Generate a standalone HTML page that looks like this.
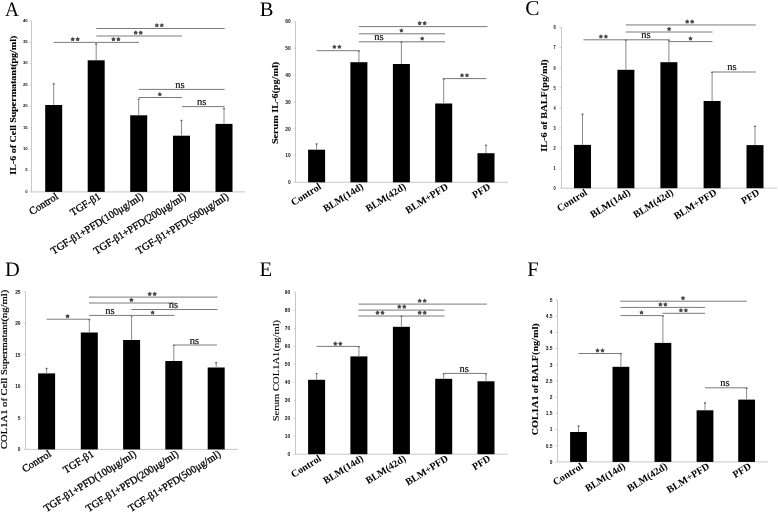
<!DOCTYPE html>
<html><head><meta charset="utf-8"><style>
html,body{margin:0;padding:0;background:#fff;overflow:hidden;width:778px;height:513px;}
svg{display:block;will-change:transform;}
.let,.ns{text-rendering:geometricPrecision;}
.let{font-family:"Liberation Serif",serif;font-size:20.5px;fill:#000;}
.tick{font-family:"Liberation Sans",sans-serif;font-weight:bold;font-size:4.9px;fill:#111;text-anchor:end;}
.ns{font-family:"Liberation Serif",serif;font-size:10.5px;fill:#111;stroke:#111;stroke-width:0.2px;text-anchor:middle;}
.title{font-family:"Liberation Serif",serif;font-size:8.8px;fill:#000;stroke:#000;stroke-width:0.12px;text-anchor:middle;}
.xr{font-family:"Liberation Serif",serif;font-size:10.5px;fill:#000;stroke:#000;stroke-width:0.3px;text-anchor:end;}
.xl{font-family:"Liberation Serif",serif;font-weight:bold;font-size:10.1px;fill:#000;text-anchor:end;}
</style></head><body>
<svg width="778" height="513" viewBox="0 0 778 513">
<rect width="778" height="513" fill="#fff"/>
<text transform="translate(4.9,16.0) scale(0.95,1)" class="let" style="font-size:20.4px">A</text>
<line x1="31.5" y1="20.9" x2="31.5" y2="191.9" stroke="#c8c8c8" stroke-width="1"/>
<line x1="31.5" y1="191.9" x2="245" y2="191.9" stroke="#c8c8c8" stroke-width="1"/>
<line x1="29.5" y1="191.90" x2="31.5" y2="191.90" stroke="#c8c8c8" stroke-width="0.8"/>
<text transform="translate(27.60,192.70) scale(0.86,0.86)" class="tick">0</text>
<line x1="29.5" y1="170.53" x2="31.5" y2="170.53" stroke="#c8c8c8" stroke-width="0.8"/>
<text transform="translate(27.60,171.33) scale(0.86,0.86)" class="tick">5</text>
<line x1="29.5" y1="149.15" x2="31.5" y2="149.15" stroke="#c8c8c8" stroke-width="0.8"/>
<text transform="translate(27.60,149.95) scale(0.86,0.86)" class="tick">10</text>
<line x1="29.5" y1="127.78" x2="31.5" y2="127.78" stroke="#c8c8c8" stroke-width="0.8"/>
<text transform="translate(27.60,128.58) scale(0.86,0.86)" class="tick">15</text>
<line x1="29.5" y1="106.40" x2="31.5" y2="106.40" stroke="#c8c8c8" stroke-width="0.8"/>
<text transform="translate(27.60,107.20) scale(0.86,0.86)" class="tick">20</text>
<line x1="29.5" y1="85.03" x2="31.5" y2="85.03" stroke="#c8c8c8" stroke-width="0.8"/>
<text transform="translate(27.60,85.83) scale(0.86,0.86)" class="tick">25</text>
<line x1="29.5" y1="63.65" x2="31.5" y2="63.65" stroke="#c8c8c8" stroke-width="0.8"/>
<text transform="translate(27.60,64.45) scale(0.86,0.86)" class="tick">30</text>
<line x1="29.5" y1="42.28" x2="31.5" y2="42.28" stroke="#c8c8c8" stroke-width="0.8"/>
<text transform="translate(27.60,43.08) scale(0.86,0.86)" class="tick">35</text>
<line x1="29.5" y1="20.90" x2="31.5" y2="20.90" stroke="#c8c8c8" stroke-width="0.8"/>
<text transform="translate(27.60,21.70) scale(0.86,0.86)" class="tick">40</text>
<rect x="45.2" y="105" width="17" height="86.90" fill="#000"/>
<line x1="53.70" y1="83.5" x2="53.70" y2="105" stroke="#8a8a8a" stroke-width="1"/>
<rect x="52.70" y="83.20" width="2" height="1.3" fill="#666"/>
<rect x="87.7" y="60.3" width="17" height="131.60" fill="#000"/>
<line x1="96.20" y1="43.7" x2="96.20" y2="60.3" stroke="#8a8a8a" stroke-width="1"/>
<rect x="95.20" y="43.40" width="2" height="1.3" fill="#666"/>
<rect x="130.2" y="115.3" width="17" height="76.60" fill="#000"/>
<line x1="138.70" y1="98.9" x2="138.70" y2="115.3" stroke="#8a8a8a" stroke-width="1"/>
<rect x="137.70" y="98.60" width="2" height="1.3" fill="#666"/>
<rect x="173" y="135.7" width="17" height="56.20" fill="#000"/>
<line x1="181.50" y1="120.1" x2="181.50" y2="135.7" stroke="#8a8a8a" stroke-width="1"/>
<rect x="180.50" y="119.80" width="2" height="1.3" fill="#666"/>
<rect x="215.5" y="123.9" width="17" height="68.00" fill="#000"/>
<line x1="224.00" y1="108.2" x2="224.00" y2="123.9" stroke="#8a8a8a" stroke-width="1"/>
<rect x="223.00" y="107.90" width="2" height="1.3" fill="#666"/>
<line x1="53.7" y1="42.4" x2="139" y2="42.4" stroke="#7a7a7a" stroke-width="1"/>
<polygon points="72.70,36.95 73.56,38.12 74.93,38.57 74.09,39.75 74.08,41.20 72.70,40.76 71.32,41.20 71.31,39.75 70.47,38.57 71.84,38.12" fill="#4a4a4a"/><polygon points="77.70,36.95 78.56,38.12 79.93,38.57 79.09,39.75 79.08,41.20 77.70,40.76 76.32,41.20 76.31,39.75 75.47,38.57 76.84,38.12" fill="#4a4a4a"/>
<polygon points="113.40,36.95 114.26,38.12 115.63,38.57 114.79,39.75 114.78,41.20 113.40,40.76 112.02,41.20 112.01,39.75 111.17,38.57 112.54,38.12" fill="#4a4a4a"/><polygon points="118.40,36.95 119.26,38.12 120.63,38.57 119.79,39.75 119.78,41.20 118.40,40.76 117.02,41.20 117.01,39.75 116.17,38.57 117.54,38.12" fill="#4a4a4a"/>
<line x1="96.3" y1="36.0" x2="182" y2="36.0" stroke="#7a7a7a" stroke-width="1"/>
<polygon points="135.70,30.45 136.56,31.62 137.93,32.07 137.09,33.25 137.08,34.70 135.70,34.26 134.32,34.70 134.31,33.25 133.47,32.07 134.84,31.62" fill="#4a4a4a"/><polygon points="140.70,30.45 141.56,31.62 142.93,32.07 142.09,33.25 142.08,34.70 140.70,34.26 139.32,34.70 139.31,33.25 138.47,32.07 139.84,31.62" fill="#4a4a4a"/>
<line x1="96.3" y1="28.5" x2="224.6" y2="28.5" stroke="#7a7a7a" stroke-width="1"/>
<polygon points="156.80,23.05 157.66,24.22 159.03,24.67 158.19,25.85 158.18,27.30 156.80,26.86 155.42,27.30 155.41,25.85 154.57,24.67 155.94,24.22" fill="#4a4a4a"/><polygon points="161.80,23.05 162.66,24.22 164.03,24.67 163.19,25.85 163.18,27.30 161.80,26.86 160.42,27.30 160.41,25.85 159.57,24.67 160.94,24.22" fill="#4a4a4a"/>
<line x1="138.7" y1="89.4" x2="224.6" y2="89.4" stroke="#7a7a7a" stroke-width="1"/>
<text x="180" y="87.6" class="ns">ns</text>
<line x1="138.7" y1="97.5" x2="182" y2="97.5" stroke="#7a7a7a" stroke-width="1"/>
<polygon points="159.80,92.05 160.66,93.22 162.03,93.67 161.19,94.85 161.18,96.30 159.80,95.86 158.42,96.30 158.41,94.85 157.57,93.67 158.94,93.22" fill="#4a4a4a"/>
<line x1="182" y1="106.6" x2="224.6" y2="106.6" stroke="#7a7a7a" stroke-width="1"/>
<text x="201.7" y="105" class="ns">ns</text>
<text transform="translate(16.2,105.2) scale(1,1.2045454545454544) rotate(-90)" class="title" style="font-weight:bold;font-size:8.3px;stroke-width:0.1px">IL-6 of Cell Supermatant(pg/ml)</text>
<text transform="translate(59.00,198.20) rotate(-32)" class="xr">Control</text>
<text transform="translate(101.50,198.20) rotate(-32)" class="xr">TGF-β1</text>
<text transform="translate(144.00,198.20) rotate(-32)" class="xr">TGF-β1+PFD(100μg/ml)</text>
<text transform="translate(186.80,198.20) rotate(-32)" class="xr">TGF-β1+PFD(200μg/ml)</text>
<text transform="translate(229.30,198.20) rotate(-32)" class="xr">TGF-β1+PFD(500μg/ml)</text>
<text transform="translate(259.8,15.6) scale(1,1)" class="let" style="font-size:20.5px">B</text>
<line x1="295.5" y1="21.4" x2="295.5" y2="182.3" stroke="#c8c8c8" stroke-width="1"/>
<line x1="295.5" y1="182.3" x2="508" y2="182.3" stroke="#c8c8c8" stroke-width="1"/>
<line x1="293.5" y1="182.30" x2="295.5" y2="182.30" stroke="#c8c8c8" stroke-width="0.8"/>
<text transform="translate(290.80,184.20) scale(1,1)" class="tick">0</text>
<line x1="293.5" y1="155.48" x2="295.5" y2="155.48" stroke="#c8c8c8" stroke-width="0.8"/>
<text transform="translate(290.80,157.38) scale(1,1)" class="tick">10</text>
<line x1="293.5" y1="128.67" x2="295.5" y2="128.67" stroke="#c8c8c8" stroke-width="0.8"/>
<text transform="translate(290.80,130.57) scale(1,1)" class="tick">20</text>
<line x1="293.5" y1="101.85" x2="295.5" y2="101.85" stroke="#c8c8c8" stroke-width="0.8"/>
<text transform="translate(290.80,103.75) scale(1,1)" class="tick">30</text>
<line x1="293.5" y1="75.03" x2="295.5" y2="75.03" stroke="#c8c8c8" stroke-width="0.8"/>
<text transform="translate(290.80,76.93) scale(1,1)" class="tick">40</text>
<line x1="293.5" y1="48.22" x2="295.5" y2="48.22" stroke="#c8c8c8" stroke-width="0.8"/>
<text transform="translate(290.80,50.12) scale(1,1)" class="tick">50</text>
<line x1="293.5" y1="21.40" x2="295.5" y2="21.40" stroke="#c8c8c8" stroke-width="0.8"/>
<text transform="translate(290.80,23.30) scale(1,1)" class="tick">60</text>
<rect x="308.1" y="149.7" width="17" height="32.60" fill="#000"/>
<line x1="316.60" y1="143.7" x2="316.60" y2="149.7" stroke="#8a8a8a" stroke-width="1"/>
<rect x="315.60" y="143.40" width="2" height="1.3" fill="#666"/>
<rect x="350.4" y="62.2" width="17" height="120.10" fill="#000"/>
<line x1="358.90" y1="50.7" x2="358.90" y2="62.2" stroke="#8a8a8a" stroke-width="1"/>
<rect x="357.90" y="50.40" width="2" height="1.3" fill="#666"/>
<rect x="392.9" y="64" width="17" height="118.30" fill="#000"/>
<line x1="401.40" y1="41.8" x2="401.40" y2="64" stroke="#8a8a8a" stroke-width="1"/>
<rect x="400.40" y="41.50" width="2" height="1.3" fill="#666"/>
<rect x="435.2" y="103.5" width="17" height="78.80" fill="#000"/>
<line x1="443.70" y1="78.6" x2="443.70" y2="103.5" stroke="#8a8a8a" stroke-width="1"/>
<rect x="442.70" y="78.30" width="2" height="1.3" fill="#666"/>
<rect x="477.5" y="153.2" width="17" height="29.10" fill="#000"/>
<line x1="486.00" y1="145" x2="486.00" y2="153.2" stroke="#8a8a8a" stroke-width="1"/>
<rect x="485.00" y="144.70" width="2" height="1.3" fill="#666"/>
<line x1="316.6" y1="50.7" x2="359.0" y2="50.7" stroke="#7a7a7a" stroke-width="1"/>
<polygon points="334.40,44.55 335.26,45.72 336.63,46.17 335.79,47.35 335.78,48.80 334.40,48.36 333.02,48.80 333.01,47.35 332.17,46.17 333.54,45.72" fill="#4a4a4a"/><polygon points="339.40,44.55 340.26,45.72 341.63,46.17 340.79,47.35 340.78,48.80 339.40,48.36 338.02,48.80 338.01,47.35 337.17,46.17 338.54,45.72" fill="#4a4a4a"/>
<line x1="358.9" y1="26.6" x2="487.5" y2="26.6" stroke="#7a7a7a" stroke-width="1"/>
<polygon points="419.70,20.95 420.56,22.12 421.93,22.57 421.09,23.75 421.08,25.20 419.70,24.76 418.32,25.20 418.31,23.75 417.47,22.57 418.84,22.12" fill="#4a4a4a"/><polygon points="424.70,20.95 425.56,22.12 426.93,22.57 426.09,23.75 426.08,25.20 424.70,24.76 423.32,25.20 423.31,23.75 422.47,22.57 423.84,22.12" fill="#4a4a4a"/>
<line x1="358.9" y1="33.8" x2="445" y2="33.8" stroke="#7a7a7a" stroke-width="1"/>
<polygon points="401.40,28.25 402.26,29.42 403.63,29.87 402.79,31.05 402.78,32.50 401.40,32.06 400.02,32.50 400.01,31.05 399.17,29.87 400.54,29.42" fill="#4a4a4a"/>
<line x1="358.9" y1="41.8" x2="445" y2="41.8" stroke="#7a7a7a" stroke-width="1"/>
<text x="378.8" y="40.2" class="ns">ns</text>
<polygon points="422.20,36.25 423.06,37.42 424.43,37.87 423.59,39.05 423.58,40.50 422.20,40.06 420.82,40.50 420.81,39.05 419.97,37.87 421.34,37.42" fill="#4a4a4a"/>
<line x1="443.6" y1="78.6" x2="486.5" y2="78.6" stroke="#7a7a7a" stroke-width="1"/>
<polygon points="462.00,73.05 462.86,74.22 464.23,74.67 463.39,75.85 463.38,77.30 462.00,76.86 460.62,77.30 460.61,75.85 459.77,74.67 461.14,74.22" fill="#4a4a4a"/><polygon points="467.00,73.05 467.86,74.22 469.23,74.67 468.39,75.85 468.38,77.30 467.00,76.86 465.62,77.30 465.61,75.85 464.77,74.67 466.14,74.22" fill="#4a4a4a"/>
<text transform="translate(278.1,103.0) scale(1,1.2045454545454544) rotate(-90)" class="title" style="font-weight:bold;font-size:8.45px;stroke-width:0.1px">Serum IL-6(pg/ml)</text>
<text transform="translate(321.90,188.30) rotate(-32)" class="xl">Control</text>
<text transform="translate(364.20,188.30) rotate(-32)" class="xl">BLM(14d)</text>
<text transform="translate(406.70,188.30) rotate(-32)" class="xl">BLM(42d)</text>
<text transform="translate(449.00,188.30) rotate(-32)" class="xl">BLM+PFD</text>
<text transform="translate(491.30,188.30) rotate(-32)" class="xl">PFD</text>
<text transform="translate(525.3,15.3) scale(1,1)" class="let" style="font-size:21.3px">C</text>
<line x1="561.5" y1="27.4" x2="561.5" y2="188.2" stroke="#c8c8c8" stroke-width="1"/>
<line x1="561.5" y1="188.2" x2="777" y2="188.2" stroke="#c8c8c8" stroke-width="1"/>
<line x1="559.5" y1="188.20" x2="561.5" y2="188.20" stroke="#c8c8c8" stroke-width="0.8"/>
<text transform="translate(555.70,190.10) scale(0.8,1)" class="tick">0</text>
<line x1="559.5" y1="168.10" x2="561.5" y2="168.10" stroke="#c8c8c8" stroke-width="0.8"/>
<text transform="translate(555.70,170.00) scale(0.8,1)" class="tick">1</text>
<line x1="559.5" y1="148.00" x2="561.5" y2="148.00" stroke="#c8c8c8" stroke-width="0.8"/>
<text transform="translate(555.70,149.90) scale(0.8,1)" class="tick">2</text>
<line x1="559.5" y1="127.90" x2="561.5" y2="127.90" stroke="#c8c8c8" stroke-width="0.8"/>
<text transform="translate(555.70,129.80) scale(0.8,1)" class="tick">3</text>
<line x1="559.5" y1="107.80" x2="561.5" y2="107.80" stroke="#c8c8c8" stroke-width="0.8"/>
<text transform="translate(555.70,109.70) scale(0.8,1)" class="tick">4</text>
<line x1="559.5" y1="87.70" x2="561.5" y2="87.70" stroke="#c8c8c8" stroke-width="0.8"/>
<text transform="translate(555.70,89.60) scale(0.8,1)" class="tick">5</text>
<line x1="559.5" y1="67.60" x2="561.5" y2="67.60" stroke="#c8c8c8" stroke-width="0.8"/>
<text transform="translate(555.70,69.50) scale(0.8,1)" class="tick">6</text>
<line x1="559.5" y1="47.50" x2="561.5" y2="47.50" stroke="#c8c8c8" stroke-width="0.8"/>
<text transform="translate(555.70,49.40) scale(0.8,1)" class="tick">7</text>
<line x1="559.5" y1="27.40" x2="561.5" y2="27.40" stroke="#c8c8c8" stroke-width="0.8"/>
<text transform="translate(555.70,29.30) scale(0.8,1)" class="tick">8</text>
<rect x="574" y="144.9" width="17" height="43.30" fill="#000"/>
<line x1="582.50" y1="113.9" x2="582.50" y2="144.9" stroke="#8a8a8a" stroke-width="1"/>
<rect x="581.50" y="113.60" width="2" height="1.3" fill="#666"/>
<rect x="617.4" y="69.8" width="17" height="118.40" fill="#000"/>
<line x1="625.90" y1="39.8" x2="625.90" y2="69.8" stroke="#8a8a8a" stroke-width="1"/>
<rect x="624.90" y="39.50" width="2" height="1.3" fill="#666"/>
<rect x="660.4" y="62.2" width="17" height="126.00" fill="#000"/>
<line x1="668.90" y1="39.8" x2="668.90" y2="62.2" stroke="#8a8a8a" stroke-width="1"/>
<rect x="667.90" y="39.50" width="2" height="1.3" fill="#666"/>
<rect x="703.6" y="101" width="17" height="87.20" fill="#000"/>
<line x1="712.10" y1="72" x2="712.10" y2="101" stroke="#8a8a8a" stroke-width="1"/>
<rect x="711.10" y="71.70" width="2" height="1.3" fill="#666"/>
<rect x="746.5" y="145.1" width="17" height="43.10" fill="#000"/>
<line x1="755.00" y1="126" x2="755.00" y2="145.1" stroke="#8a8a8a" stroke-width="1"/>
<rect x="754.00" y="125.70" width="2" height="1.3" fill="#666"/>
<line x1="583.4" y1="39.8" x2="668.7" y2="39.8" stroke="#7a7a7a" stroke-width="1"/>
<polygon points="600.90,34.25 601.76,35.42 603.13,35.87 602.29,37.05 602.28,38.50 600.90,38.06 599.52,38.50 599.51,37.05 598.67,35.87 600.04,35.42" fill="#4a4a4a"/><polygon points="605.90,34.25 606.76,35.42 608.13,35.87 607.29,37.05 607.28,38.50 605.90,38.06 604.52,38.50 604.51,37.05 603.67,35.87 605.04,35.42" fill="#4a4a4a"/>
<text x="645.9" y="37.9" class="ns">ns</text>
<line x1="625.8" y1="24.95" x2="755.8" y2="24.95" stroke="#7a7a7a" stroke-width="1"/>
<polygon points="687.20,19.35 688.06,20.52 689.43,20.97 688.59,22.15 688.58,23.60 687.20,23.16 685.82,23.60 685.81,22.15 684.97,20.97 686.34,20.52" fill="#4a4a4a"/><polygon points="692.20,19.35 693.06,20.52 694.43,20.97 693.59,22.15 693.58,23.60 692.20,23.16 690.82,23.60 690.81,22.15 689.97,20.97 691.34,20.52" fill="#4a4a4a"/>
<line x1="625.8" y1="32.0" x2="712.5" y2="32.0" stroke="#7a7a7a" stroke-width="1"/>
<polygon points="669.10,26.65 669.96,27.82 671.33,28.27 670.49,29.45 670.48,30.90 669.10,30.46 667.72,30.90 667.71,29.45 666.87,28.27 668.24,27.82" fill="#4a4a4a"/>
<line x1="668.7" y1="41.6" x2="712.5" y2="41.6" stroke="#7a7a7a" stroke-width="1"/>
<polygon points="690.50,36.25 691.36,37.42 692.73,37.87 691.89,39.05 691.88,40.50 690.50,40.06 689.12,40.50 689.11,39.05 688.27,37.87 689.64,37.42" fill="#4a4a4a"/>
<line x1="712.1" y1="72.0" x2="755.8" y2="72.0" stroke="#7a7a7a" stroke-width="1"/>
<text x="732" y="69.6" class="ns">ns</text>
<text transform="translate(547.1,105.5) scale(1,1.2045454545454544) rotate(-90)" class="title" style="font-weight:bold;font-size:8.55px;stroke-width:0.1px">IL-6 of BALF(pg/ml)</text>
<text transform="translate(587.80,194.20) rotate(-32)" class="xl">Control</text>
<text transform="translate(631.20,194.20) rotate(-32)" class="xl">BLM(14d)</text>
<text transform="translate(674.20,194.20) rotate(-32)" class="xl">BLM(42d)</text>
<text transform="translate(717.40,194.20) rotate(-32)" class="xl">BLM+PFD</text>
<text transform="translate(760.30,194.20) rotate(-32)" class="xl">PFD</text>
<text transform="translate(5.05,276.2) scale(1,1)" class="let" style="font-size:20.5px">D</text>
<line x1="25.5" y1="291.6" x2="25.5" y2="449.4" stroke="#c8c8c8" stroke-width="1"/>
<line x1="25.5" y1="449.4" x2="237.8" y2="449.4" stroke="#c8c8c8" stroke-width="1"/>
<line x1="23.5" y1="449.40" x2="25.5" y2="449.40" stroke="#c8c8c8" stroke-width="0.8"/>
<text transform="translate(20.60,451.30) scale(1,1)" class="tick">0</text>
<line x1="23.5" y1="417.84" x2="25.5" y2="417.84" stroke="#c8c8c8" stroke-width="0.8"/>
<text transform="translate(20.60,419.74) scale(1,1)" class="tick">5</text>
<line x1="23.5" y1="386.28" x2="25.5" y2="386.28" stroke="#c8c8c8" stroke-width="0.8"/>
<text transform="translate(20.60,388.18) scale(1,1)" class="tick">10</text>
<line x1="23.5" y1="354.72" x2="25.5" y2="354.72" stroke="#c8c8c8" stroke-width="0.8"/>
<text transform="translate(20.60,356.62) scale(1,1)" class="tick">15</text>
<line x1="23.5" y1="323.16" x2="25.5" y2="323.16" stroke="#c8c8c8" stroke-width="0.8"/>
<text transform="translate(20.60,325.06) scale(1,1)" class="tick">20</text>
<line x1="23.5" y1="291.60" x2="25.5" y2="291.60" stroke="#c8c8c8" stroke-width="0.8"/>
<text transform="translate(20.60,293.50) scale(1,1)" class="tick">25</text>
<rect x="38.1" y="373.4" width="17" height="76.00" fill="#000"/>
<line x1="46.60" y1="368.1" x2="46.60" y2="373.4" stroke="#8a8a8a" stroke-width="1"/>
<rect x="45.60" y="367.80" width="2" height="1.3" fill="#666"/>
<rect x="80.8" y="332.5" width="17" height="116.90" fill="#000"/>
<line x1="89.30" y1="319.2" x2="89.30" y2="332.5" stroke="#8a8a8a" stroke-width="1"/>
<rect x="88.30" y="318.90" width="2" height="1.3" fill="#666"/>
<rect x="123.1" y="340" width="17" height="109.40" fill="#000"/>
<line x1="131.60" y1="315.5" x2="131.60" y2="340" stroke="#8a8a8a" stroke-width="1"/>
<rect x="130.60" y="315.20" width="2" height="1.3" fill="#666"/>
<rect x="165.3" y="361" width="17" height="88.40" fill="#000"/>
<line x1="173.80" y1="345" x2="173.80" y2="361" stroke="#8a8a8a" stroke-width="1"/>
<rect x="172.80" y="344.70" width="2" height="1.3" fill="#666"/>
<rect x="207.7" y="367.5" width="17" height="81.90" fill="#000"/>
<line x1="216.20" y1="362.3" x2="216.20" y2="367.5" stroke="#8a8a8a" stroke-width="1"/>
<rect x="215.20" y="362.00" width="2" height="1.3" fill="#666"/>
<line x1="46.6" y1="319.2" x2="89.2" y2="319.2" stroke="#7a7a7a" stroke-width="1"/>
<polygon points="67.60,313.95 68.46,315.12 69.83,315.57 68.99,316.75 68.98,318.20 67.60,317.76 66.22,318.20 66.21,316.75 65.37,315.57 66.74,315.12" fill="#4a4a4a"/>
<line x1="89" y1="297.1" x2="217.5" y2="297.1" stroke="#7a7a7a" stroke-width="1"/>
<polygon points="149.70,291.65 150.56,292.82 151.93,293.27 151.09,294.45 151.08,295.90 149.70,295.46 148.32,295.90 148.31,294.45 147.47,293.27 148.84,292.82" fill="#4a4a4a"/><polygon points="154.70,291.65 155.56,292.82 156.93,293.27 156.09,294.45 156.08,295.90 154.70,295.46 153.32,295.90 153.31,294.45 152.47,293.27 153.84,292.82" fill="#4a4a4a"/>
<line x1="89" y1="303.0" x2="174.6" y2="303.0" stroke="#7a7a7a" stroke-width="1"/>
<polygon points="131.40,297.65 132.26,298.82 133.63,299.27 132.79,300.45 132.78,301.90 131.40,301.46 130.02,301.90 130.01,300.45 129.17,299.27 130.54,298.82" fill="#4a4a4a"/>
<line x1="131.4" y1="309.5" x2="217.5" y2="309.5" stroke="#7a7a7a" stroke-width="1"/>
<text x="173.3" y="308.4" class="ns">ns</text>
<line x1="89" y1="315.4" x2="174.6" y2="315.4" stroke="#7a7a7a" stroke-width="1"/>
<text x="110" y="314.4" class="ns">ns</text>
<polygon points="152.60,310.25 153.46,311.42 154.83,311.87 153.99,313.05 153.98,314.50 152.60,314.06 151.22,314.50 151.21,313.05 150.37,311.87 151.74,311.42" fill="#4a4a4a"/>
<line x1="173.6" y1="345.0" x2="216.9" y2="345.0" stroke="#7a7a7a" stroke-width="1"/>
<text x="194.5" y="344" class="ns">ns</text>
<text transform="translate(7.2,369.4) scale(1,1.2045454545454544) rotate(-90)" class="title" style="stroke-width:0.2px">COL1A1 of Cell Supermatant(ng/ml)</text>
<text transform="translate(51.90,455.70) rotate(-32)" class="xr">Control</text>
<text transform="translate(94.60,455.70) rotate(-32)" class="xr">TGF-β1</text>
<text transform="translate(136.90,455.70) rotate(-32)" class="xr">TGF-β1+PFD(100μg/ml)</text>
<text transform="translate(179.10,455.70) rotate(-32)" class="xr">TGF-β1+PFD(200μg/ml)</text>
<text transform="translate(221.50,455.70) rotate(-32)" class="xr">TGF-β1+PFD(500μg/ml)</text>
<text transform="translate(259.6,276.2) scale(1,1)" class="let" style="font-size:20.7px">E</text>
<line x1="295.5" y1="292.4" x2="295.5" y2="454.2" stroke="#c8c8c8" stroke-width="1"/>
<line x1="295.5" y1="454.2" x2="507.9" y2="454.2" stroke="#c8c8c8" stroke-width="1"/>
<line x1="293.5" y1="454.20" x2="295.5" y2="454.20" stroke="#c8c8c8" stroke-width="0.8"/>
<text transform="translate(290.30,456.10) scale(1,1)" class="tick">0</text>
<line x1="293.5" y1="436.22" x2="295.5" y2="436.22" stroke="#c8c8c8" stroke-width="0.8"/>
<text transform="translate(290.30,438.12) scale(1,1)" class="tick">10</text>
<line x1="293.5" y1="418.24" x2="295.5" y2="418.24" stroke="#c8c8c8" stroke-width="0.8"/>
<text transform="translate(290.30,420.14) scale(1,1)" class="tick">20</text>
<line x1="293.5" y1="400.27" x2="295.5" y2="400.27" stroke="#c8c8c8" stroke-width="0.8"/>
<text transform="translate(290.30,402.17) scale(1,1)" class="tick">30</text>
<line x1="293.5" y1="382.29" x2="295.5" y2="382.29" stroke="#c8c8c8" stroke-width="0.8"/>
<text transform="translate(290.30,384.19) scale(1,1)" class="tick">40</text>
<line x1="293.5" y1="364.31" x2="295.5" y2="364.31" stroke="#c8c8c8" stroke-width="0.8"/>
<text transform="translate(290.30,366.21) scale(1,1)" class="tick">50</text>
<line x1="293.5" y1="346.33" x2="295.5" y2="346.33" stroke="#c8c8c8" stroke-width="0.8"/>
<text transform="translate(290.30,348.23) scale(1,1)" class="tick">60</text>
<line x1="293.5" y1="328.36" x2="295.5" y2="328.36" stroke="#c8c8c8" stroke-width="0.8"/>
<text transform="translate(290.30,330.26) scale(1,1)" class="tick">70</text>
<line x1="293.5" y1="310.38" x2="295.5" y2="310.38" stroke="#c8c8c8" stroke-width="0.8"/>
<text transform="translate(290.30,312.28) scale(1,1)" class="tick">80</text>
<line x1="293.5" y1="292.40" x2="295.5" y2="292.40" stroke="#c8c8c8" stroke-width="0.8"/>
<text transform="translate(290.30,294.30) scale(1,1)" class="tick">90</text>
<rect x="308.1" y="379.8" width="17" height="74.40" fill="#000"/>
<line x1="316.60" y1="373.3" x2="316.60" y2="379.8" stroke="#8a8a8a" stroke-width="1"/>
<rect x="315.60" y="373.00" width="2" height="1.3" fill="#666"/>
<rect x="350.4" y="356.4" width="17" height="97.80" fill="#000"/>
<line x1="358.90" y1="346.4" x2="358.90" y2="356.4" stroke="#8a8a8a" stroke-width="1"/>
<rect x="357.90" y="346.10" width="2" height="1.3" fill="#666"/>
<rect x="392.9" y="326.8" width="17" height="127.40" fill="#000"/>
<line x1="401.40" y1="316.0" x2="401.40" y2="326.8" stroke="#8a8a8a" stroke-width="1"/>
<rect x="400.40" y="315.70" width="2" height="1.3" fill="#666"/>
<rect x="435.2" y="378.8" width="17" height="75.40" fill="#000"/>
<line x1="443.70" y1="373.4" x2="443.70" y2="378.8" stroke="#8a8a8a" stroke-width="1"/>
<rect x="442.70" y="373.10" width="2" height="1.3" fill="#666"/>
<rect x="477.5" y="381.3" width="17" height="72.90" fill="#000"/>
<line x1="486.00" y1="373.4" x2="486.00" y2="381.3" stroke="#8a8a8a" stroke-width="1"/>
<rect x="485.00" y="373.10" width="2" height="1.3" fill="#666"/>
<line x1="316.6" y1="346.4" x2="358.6" y2="346.4" stroke="#7a7a7a" stroke-width="1"/>
<polygon points="335.30,341.45 336.16,342.62 337.53,343.07 336.69,344.25 336.68,345.70 335.30,345.26 333.92,345.70 333.91,344.25 333.07,343.07 334.44,342.62" fill="#4a4a4a"/><polygon points="340.30,341.45 341.16,342.62 342.53,343.07 341.69,344.25 341.68,345.70 340.30,345.26 338.92,345.70 338.91,344.25 338.07,343.07 339.44,342.62" fill="#4a4a4a"/>
<line x1="358.5" y1="304.1" x2="486.9" y2="304.1" stroke="#7a7a7a" stroke-width="1"/>
<polygon points="419.70,298.55 420.56,299.72 421.93,300.17 421.09,301.35 421.08,302.80 419.70,302.36 418.32,302.80 418.31,301.35 417.47,300.17 418.84,299.72" fill="#4a4a4a"/><polygon points="424.70,298.55 425.56,299.72 426.93,300.17 426.09,301.35 426.08,302.80 424.70,302.36 423.32,302.80 423.31,301.35 422.47,300.17 423.84,299.72" fill="#4a4a4a"/>
<line x1="358.5" y1="310.1" x2="444.6" y2="310.1" stroke="#7a7a7a" stroke-width="1"/>
<polygon points="399.30,304.45 400.16,305.62 401.53,306.07 400.69,307.25 400.68,308.70 399.30,308.26 397.92,308.70 397.91,307.25 397.07,306.07 398.44,305.62" fill="#4a4a4a"/><polygon points="404.30,304.45 405.16,305.62 406.53,306.07 405.69,307.25 405.68,308.70 404.30,308.26 402.92,308.70 402.91,307.25 402.07,306.07 403.44,305.62" fill="#4a4a4a"/>
<line x1="358.5" y1="316.0" x2="444.6" y2="316.0" stroke="#7a7a7a" stroke-width="1"/>
<polygon points="377.50,310.45 378.36,311.62 379.73,312.07 378.89,313.25 378.88,314.70 377.50,314.26 376.12,314.70 376.11,313.25 375.27,312.07 376.64,311.62" fill="#4a4a4a"/><polygon points="382.50,310.45 383.36,311.62 384.73,312.07 383.89,313.25 383.88,314.70 382.50,314.26 381.12,314.70 381.11,313.25 380.27,312.07 381.64,311.62" fill="#4a4a4a"/>
<polygon points="419.70,310.45 420.56,311.62 421.93,312.07 421.09,313.25 421.08,314.70 419.70,314.26 418.32,314.70 418.31,313.25 417.47,312.07 418.84,311.62" fill="#4a4a4a"/><polygon points="424.70,310.45 425.56,311.62 426.93,312.07 426.09,313.25 426.08,314.70 424.70,314.26 423.32,314.70 423.31,313.25 422.47,312.07 423.84,311.62" fill="#4a4a4a"/>
<line x1="443.6" y1="373.4" x2="486.0" y2="373.4" stroke="#7a7a7a" stroke-width="1"/>
<text x="464.1" y="372.3" class="ns">ns</text>
<text transform="translate(278.7,370.6) scale(1,1.2045454545454544) rotate(-90)" class="title" style="stroke-width:0.1px">Serum COL1A1(ng/ml)</text>
<text transform="translate(321.90,460.20) rotate(-32)" class="xl">Control</text>
<text transform="translate(364.20,460.20) rotate(-32)" class="xl">BLM(14d)</text>
<text transform="translate(406.70,460.20) rotate(-32)" class="xl">BLM(42d)</text>
<text transform="translate(449.00,460.20) rotate(-32)" class="xl">BLM+PFD</text>
<text transform="translate(491.30,460.20) rotate(-32)" class="xl">PFD</text>
<text transform="translate(527.3,276.2) scale(1,1)" class="let" style="font-size:20.7px">F</text>
<line x1="557.5" y1="299.9" x2="557.5" y2="461.9" stroke="#c8c8c8" stroke-width="1"/>
<line x1="557.5" y1="461.9" x2="767.9" y2="461.9" stroke="#c8c8c8" stroke-width="1"/>
<line x1="555.5" y1="461.90" x2="557.5" y2="461.90" stroke="#c8c8c8" stroke-width="0.8"/>
<text transform="translate(552.60,463.80) scale(1,1)" class="tick">0</text>
<line x1="555.5" y1="445.70" x2="557.5" y2="445.70" stroke="#c8c8c8" stroke-width="0.8"/>
<text transform="translate(552.60,447.60) scale(1,1)" class="tick">0.5</text>
<line x1="555.5" y1="429.50" x2="557.5" y2="429.50" stroke="#c8c8c8" stroke-width="0.8"/>
<text transform="translate(552.60,431.40) scale(1,1)" class="tick">1</text>
<line x1="555.5" y1="413.30" x2="557.5" y2="413.30" stroke="#c8c8c8" stroke-width="0.8"/>
<text transform="translate(552.60,415.20) scale(1,1)" class="tick">1.5</text>
<line x1="555.5" y1="397.10" x2="557.5" y2="397.10" stroke="#c8c8c8" stroke-width="0.8"/>
<text transform="translate(552.60,399.00) scale(1,1)" class="tick">2</text>
<line x1="555.5" y1="380.90" x2="557.5" y2="380.90" stroke="#c8c8c8" stroke-width="0.8"/>
<text transform="translate(552.60,382.80) scale(1,1)" class="tick">2.5</text>
<line x1="555.5" y1="364.70" x2="557.5" y2="364.70" stroke="#c8c8c8" stroke-width="0.8"/>
<text transform="translate(552.60,366.60) scale(1,1)" class="tick">3</text>
<line x1="555.5" y1="348.50" x2="557.5" y2="348.50" stroke="#c8c8c8" stroke-width="0.8"/>
<text transform="translate(552.60,350.40) scale(1,1)" class="tick">3.5</text>
<line x1="555.5" y1="332.30" x2="557.5" y2="332.30" stroke="#c8c8c8" stroke-width="0.8"/>
<text transform="translate(552.60,334.20) scale(1,1)" class="tick">4</text>
<line x1="555.5" y1="316.10" x2="557.5" y2="316.10" stroke="#c8c8c8" stroke-width="0.8"/>
<text transform="translate(552.60,318.00) scale(1,1)" class="tick">4.5</text>
<line x1="555.5" y1="299.90" x2="557.5" y2="299.90" stroke="#c8c8c8" stroke-width="0.8"/>
<text transform="translate(552.60,301.80) scale(1,1)" class="tick">5</text>
<rect x="570.1" y="432" width="16.8" height="29.90" fill="#000"/>
<line x1="578.50" y1="425.7" x2="578.50" y2="432" stroke="#8a8a8a" stroke-width="1"/>
<rect x="577.50" y="425.40" width="2" height="1.3" fill="#666"/>
<rect x="612.5" y="366.8" width="16.8" height="95.10" fill="#000"/>
<line x1="620.90" y1="353.5" x2="620.90" y2="366.8" stroke="#8a8a8a" stroke-width="1"/>
<rect x="619.90" y="353.20" width="2" height="1.3" fill="#666"/>
<rect x="654.5" y="342.9" width="16.8" height="119.00" fill="#000"/>
<line x1="662.90" y1="315.6" x2="662.90" y2="342.9" stroke="#8a8a8a" stroke-width="1"/>
<rect x="661.90" y="315.30" width="2" height="1.3" fill="#666"/>
<rect x="696.6" y="410.3" width="16.8" height="51.60" fill="#000"/>
<line x1="705.00" y1="402.6" x2="705.00" y2="410.3" stroke="#8a8a8a" stroke-width="1"/>
<rect x="704.00" y="402.30" width="2" height="1.3" fill="#666"/>
<rect x="738.2" y="399.6" width="16.8" height="62.30" fill="#000"/>
<line x1="746.60" y1="387.8" x2="746.60" y2="399.6" stroke="#8a8a8a" stroke-width="1"/>
<rect x="745.60" y="387.50" width="2" height="1.3" fill="#666"/>
<line x1="578.6" y1="353.5" x2="620.4" y2="353.5" stroke="#7a7a7a" stroke-width="1"/>
<polygon points="597.50,348.25 598.36,349.42 599.73,349.87 598.89,351.05 598.88,352.50 597.50,352.06 596.12,352.50 596.11,351.05 595.27,349.87 596.64,349.42" fill="#4a4a4a"/><polygon points="602.50,348.25 603.36,349.42 604.73,349.87 603.89,351.05 603.88,352.50 602.50,352.06 601.12,352.50 601.11,351.05 600.27,349.87 601.64,349.42" fill="#4a4a4a"/>
<line x1="620.3" y1="301.2" x2="746.8" y2="301.2" stroke="#7a7a7a" stroke-width="1"/>
<polygon points="683.00,295.85 683.86,297.02 685.23,297.47 684.39,298.65 684.38,300.10 683.00,299.66 681.62,300.10 681.61,298.65 680.77,297.47 682.14,297.02" fill="#4a4a4a"/>
<line x1="620.3" y1="307.4" x2="705" y2="307.4" stroke="#7a7a7a" stroke-width="1"/>
<polygon points="660.40,302.15 661.26,303.32 662.63,303.77 661.79,304.95 661.78,306.40 660.40,305.96 659.02,306.40 659.01,304.95 658.17,303.77 659.54,303.32" fill="#4a4a4a"/><polygon points="665.40,302.15 666.26,303.32 667.63,303.77 666.79,304.95 666.78,306.40 665.40,305.96 664.02,306.40 664.01,304.95 663.17,303.77 664.54,303.32" fill="#4a4a4a"/>
<line x1="662.4" y1="313.3" x2="705" y2="313.3" stroke="#7a7a7a" stroke-width="1"/>
<polygon points="680.90,308.05 681.76,309.22 683.13,309.67 682.29,310.85 682.28,312.30 680.90,311.86 679.52,312.30 679.51,310.85 678.67,309.67 680.04,309.22" fill="#4a4a4a"/><polygon points="685.90,308.05 686.76,309.22 688.13,309.67 687.29,310.85 687.28,312.30 685.90,311.86 684.52,312.30 684.51,310.85 683.67,309.67 685.04,309.22" fill="#4a4a4a"/>
<line x1="620.3" y1="315.6" x2="662.4" y2="315.6" stroke="#7a7a7a" stroke-width="1"/>
<polygon points="641.50,310.25 642.36,311.42 643.73,311.87 642.89,313.05 642.88,314.50 641.50,314.06 640.12,314.50 640.11,313.05 639.27,311.87 640.64,311.42" fill="#4a4a4a"/>
<line x1="705" y1="387.8" x2="746.5" y2="387.8" stroke="#7a7a7a" stroke-width="1"/>
<text x="725" y="386.1" class="ns">ns</text>
<text transform="translate(537.6,379.3) scale(1,1.2045454545454544) rotate(-90)" class="title" style="font-weight:bold;font-size:8.45px;stroke-width:0.1px">COL1A1 of BALF(ng/ml)</text>
<text transform="translate(583.80,467.90) rotate(-32)" class="xl">Control</text>
<text transform="translate(626.20,467.90) rotate(-32)" class="xl">BLM(14d)</text>
<text transform="translate(668.20,467.90) rotate(-32)" class="xl">BLM(42d)</text>
<text transform="translate(710.30,467.90) rotate(-32)" class="xl">BLM+PFD</text>
<text transform="translate(751.90,467.90) rotate(-32)" class="xl">PFD</text>
</svg>
</body></html>
